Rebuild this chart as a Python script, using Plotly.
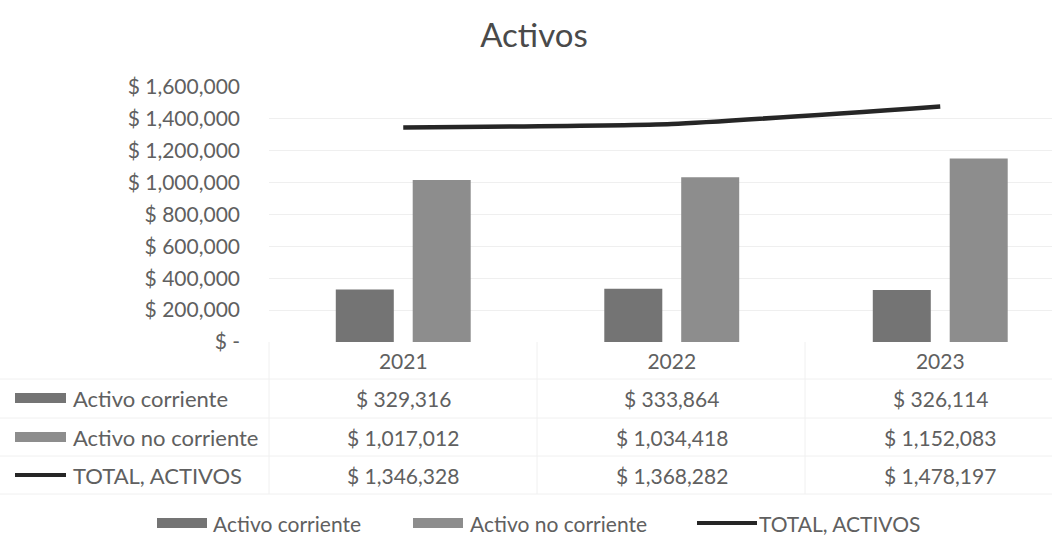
import plotly.graph_objects as go

# ---- data ----
years = ["2021", "2022", "2023"]
activo_corriente = [329316, 333864, 326114]
activo_no_corriente = [1017012, 1034418, 1152083]
total_activos = [1346328, 1368282, 1478197]
series_names = ["Activo corriente", "Activo no corriente", "TOTAL, ACTIVOS"]
y_tick_vals = [0, 200000, 400000, 600000, 800000, 1000000, 1200000, 1400000, 1600000]
y_tick_text = ["$ -", "$ 200,000", "$ 400,000", "$ 600,000", "$ 800,000",
               "$ 1,000,000", "$ 1,200,000", "$ 1,400,000", "$ 1,600,000"]

# ---- style ----
FONT = "Lato"
TXT = "#606060"
C_CORR = "#747474"
C_NOCORR = "#8d8d8d"
C_LINE = "#262626"

W, H = 1052, 539
L, R, T, B = 269, 0, 87, 197
PW, PH = W - L - R, H - T - B


def px(x):
    return (x - L) / PW


def py(y):
    return (H - B - y) / PH


fig = go.Figure()
fig.add_trace(go.Bar(x=years, y=activo_corriente, name=series_names[0],
                     marker=dict(color=C_CORR, line=dict(width=0)), showlegend=False))
fig.add_trace(go.Bar(x=years, y=activo_no_corriente, name=series_names[1],
                     marker=dict(color=C_NOCORR, line=dict(width=0)), showlegend=False))
fig.add_trace(go.Scatter(x=years, y=total_activos, name=series_names[2], mode="lines",
                         line=dict(color=C_LINE, width=4.5, shape="spline", smoothing=0.5),
                         showlegend=False))

shapes = []
annotations = []

# data table: values per category (x given as category index on the x axis)
rows_y = [398, 437, 475]
table_series = [activo_corriente, activo_no_corriente, total_activos]
for r, vals in enumerate(table_series):
    for i, v in enumerate(vals):
        annotations.append(dict(x=i, xref="x", y=py(rows_y[r]), yref="paper",
                                text=f"$ {v:,}", showarrow=False,
                                font=dict(family=FONT, size=21, color=TXT),
                                xanchor="center", yanchor="middle"))

# table grid (faint)
for yy in [379, 418, 456, 494]:
    shapes.append(dict(type="line", xref="paper", yref="paper", x0=px(0), x1=px(W),
                       y0=py(yy), y1=py(yy), line=dict(color="#f0f0f0", width=1)))
for xx in [269, 537, 805]:
    shapes.append(dict(type="line", xref="paper", yref="paper", x0=px(xx), x1=px(xx),
                       y0=py(342), y1=py(494), line=dict(color="#f0f0f0", width=1)))

# row headers with swatches
row_colors = [C_CORR, C_NOCORR, C_LINE]
for r in range(3):
    yc = rows_y[r]
    if r < 2:
        shapes.append(dict(type="rect", xref="paper", yref="paper",
                           x0=px(15), x1=px(66), y0=py(yc - 5), y1=py(yc + 5),
                           fillcolor=row_colors[r], line=dict(width=0)))
    else:
        shapes.append(dict(type="line", xref="paper", yref="paper",
                           x0=px(15), x1=px(66), y0=py(yc), y1=py(yc),
                           line=dict(color=C_LINE, width=4)))
    annotations.append(dict(x=px(71), xref="paper", y=py(yc), yref="paper",
                            text=series_names[r], showarrow=False,
                            font=dict(family=FONT, size=22, color=TXT),
                            xanchor="left", yanchor="middle"))

# bottom legend
leg_y = 523
leg_items = [(157, 207, 211), (413, 463, 468), (697, 757, 757)]
for k, (s0, s1, tx) in enumerate(leg_items):
    if k < 2:
        shapes.append(dict(type="rect", xref="paper", yref="paper",
                           x0=px(s0), x1=px(s1), y0=py(leg_y - 5), y1=py(leg_y + 5),
                           fillcolor=row_colors[k], line=dict(width=0)))
    else:
        shapes.append(dict(type="line", xref="paper", yref="paper",
                           x0=px(s0), x1=px(s1), y0=py(leg_y), y1=py(leg_y),
                           line=dict(color=C_LINE, width=4)))
    annotations.append(dict(x=px(tx), xref="paper", y=py(leg_y), yref="paper",
                            text=series_names[k], showarrow=False,
                            font=dict(family=FONT, size=21, color=TXT),
                            xanchor="left", yanchor="middle"))

fig.update_layout(
    width=W, height=H,
    margin=dict(l=L, r=R, t=T, b=B),
    paper_bgcolor="white", plot_bgcolor="white",
    barmode="group", bargap=0.427, bargroupgap=0.246,
    title=dict(text="Activos", x=534 / W, xanchor="center", y=1 - 35 / H, yanchor="middle",
               font=dict(family=FONT, size=33, color="#4a4a4a")),
    font=dict(family=FONT, color=TXT),
    showlegend=False,
    hovermode=False,
    shapes=shapes, annotations=annotations,
    xaxis=dict(type="category", range=[-0.5, -0.5 + PW / 268.5], showgrid=False,
               showline=False, zeroline=False, ticks="", ticklabelstandoff=5,
               tickfont=dict(family=FONT, size=21, color=TXT)),
    yaxis=dict(range=[0, 1600000], tickvals=y_tick_vals, ticktext=y_tick_text,
               showgrid=True, gridcolor="#efefef", gridwidth=1, zeroline=False,
               showline=False, ticks="", ticklabelstandoff=28,
               tickfont=dict(family=FONT, size=21, color=TXT)),
)

fig.write_html("out.html", config={"displayModeBar": False},
               post_script="document.body.style.margin='0px';document.body.style.overflow='hidden';")
